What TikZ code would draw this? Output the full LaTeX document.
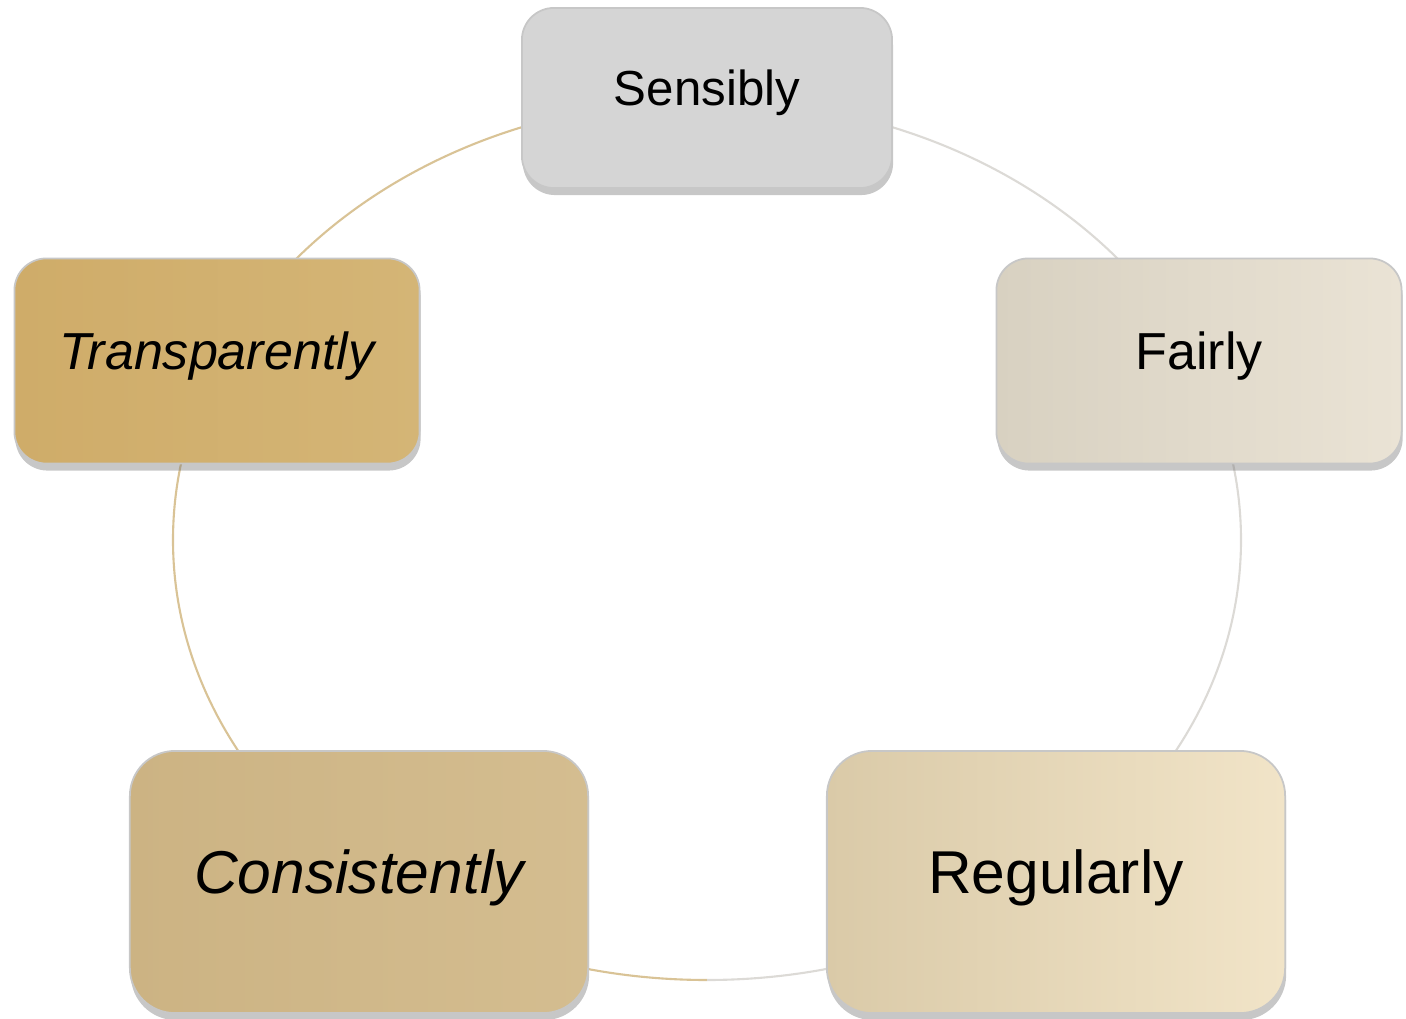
\documentclass[tikz,border=0pt]{standalone}
\usepackage{fontspec}
\setmainfont{Liberation Sans}
\usepackage{xcolor}
\usetikzlibrary{shadows}
\definecolor{ringtan}{HTML}{D9C396}
\definecolor{ringgray}{HTML}{DCDAD6}
\definecolor{sensfill}{HTML}{D5D5D5}
\definecolor{fairleft}{HTML}{D8D1C1}
\definecolor{fairright}{HTML}{EAE3D5}
\definecolor{transleft}{HTML}{CFAC69}
\definecolor{transright}{HTML}{D4B576}
\definecolor{consleft}{HTML}{CCB383}
\definecolor{consright}{HTML}{D4BD90}
\definecolor{regleft}{HTML}{DACAA8}
\definecolor{regright}{HTML}{F1E4C8}

\begin{document}
\begin{tikzpicture}[x=0.01cm, y=-0.01cm,
    tile/.style={rectangle, rounded corners=0.32cm, inner sep=0pt, text depth=6pt,
        draw=white!78!black, line width=0.5pt,
        drop shadow={shadow xshift=0.01cm, shadow yshift=-0.07cm, opacity=0.4, fill=black!55}},
    smalltile/.style={tile, minimum width=3.70cm, minimum height=1.80cm, font=\fontsize{14}{16}\selectfont},
    midtile/.style={tile, minimum width=4.05cm, minimum height=2.05cm, font=\fontsize{14.8}{17}\selectfont},
    bigtile/.style={tile, rounded corners=0.45cm, minimum width=4.58cm, minimum height=2.62cm, font=\fontsize{17.2}{20}\selectfont},
    ringline/.style={line width=0.6pt}
]
                        \useasboundingbox (0, 0) rectangle (1406, 1019);
                        \coordinate (ring) at (707, 540);
                        \draw[ringline, ringtan] (707, 100) arc[start angle=-90, end angle=-270, x radius=534, y radius=440];
                        \draw[ringline, ringgray] (707, 100) arc[start angle=-90, end angle=90, x radius=534, y radius=440];
                        \node[smalltile, fill=sensfill] (sensibly) at (707, 98) {Sensibly};
                        \node[midtile, left color=fairleft, right color=fairright] (fairly) at (1199, 361) {Fairly};
                        \node[midtile, left color=transleft, right color=transright] (transparently) at (217, 361) {\itshape Transparently};
                        \node[bigtile, left color=consleft, right color=consright] (consistently) at (359, 882) {\itshape Consistently};
                        \node[bigtile, left color=regleft, right color=regright] (regularly) at (1056, 882) {Regularly};
\end{tikzpicture}
\end{document}
